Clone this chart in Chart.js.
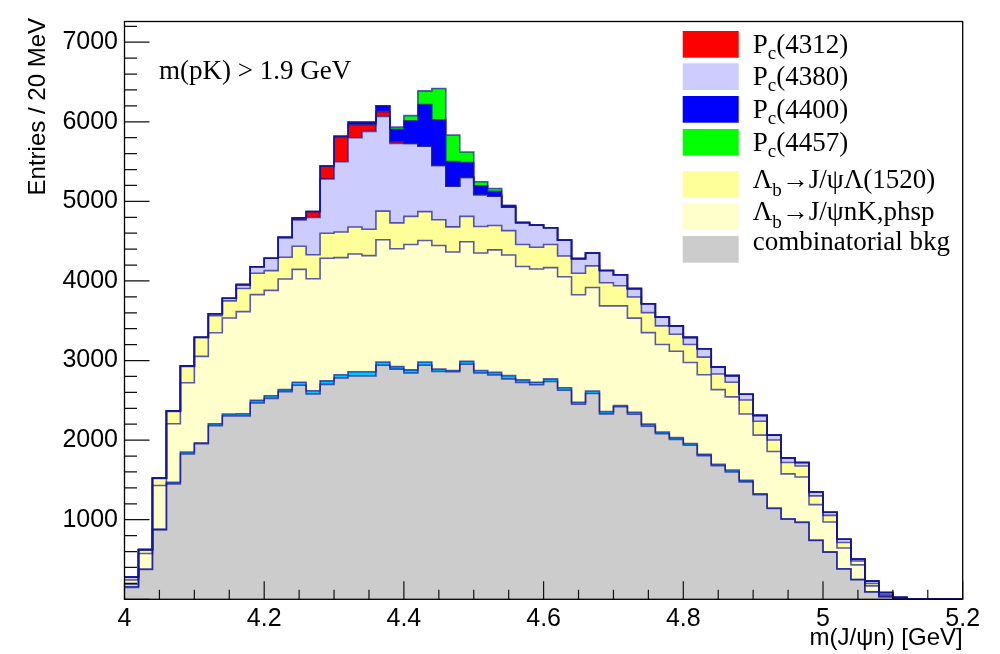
<!DOCTYPE html>
<html>
<head>
<meta charset="utf-8">
<script src="https://cdn.jsdelivr.net/npm/chart.js@4.4.0/dist/chart.umd.min.js"></script>
<style>
  html, body { margin: 0; padding: 0; background: #fff; }
  #wrap { width: 1000px; height: 654px; }
</style>
</head>
<body>
<div id="wrap"><canvas id="histChart" width="1000" height="654"></canvas></div>
<script>
// bin left edges, 20 MeV bins from 4.00 to 5.20 GeV (last entry closes the step line)
const binEdges = Array.from({ length: 61 }, (_, i) => +(4 + 0.02 * i).toFixed(2));

// entries per bin, one array per stack component (bottom to top)
const combBkg = [150, 375, 872, 1450, 1825, 1955, 2182, 2304, 2304, 2467,
    2525, 2610, 2690, 2580, 2700, 2780, 2805, 2805, 2941, 2892,
    2843, 2941, 2863, 2859, 2953, 2843, 2818, 2770, 2724, 2696,
    2737, 2626, 2450, 2586, 2330, 2420, 2325, 2175, 2080, 2010,
    1935, 1805, 1680, 1600, 1475, 1315, 1140, 1005, 965, 738,
    592, 380, 247, 92, 32, 15, 0, 0, 0, 0];
const otherBkg = [8, 5, 10, 21, 26, 10, 24, 24, 28, 33,
    32, 25, 38, 40, 45, 42, 55, 55, 41, 32,
    40, 41, 29, 16, 37, 32, 33, 40, 33, 32,
    32, 33, 25, 32, 28, 15, 25, 26, 23, 21,
    22, 16, 15, 25, 20, 12, 7, 7, 7, 5,
    4, 4, 2, 2, 1, 0, 0, 0, 0, 0];
const phsp = [30, 196, 548, 735, 870, 1087, 1144, 1206, 1283, 1328,
    1324, 1389, 1418, 1408, 1540, 1471, 1478, 1458, 1536, 1480,
    1575, 1527, 1553, 1489, 1502, 1477, 1539, 1516, 1424, 1423,
    1399, 1394, 1352, 1299, 1329, 1252, 1183, 1150, 1098, 1085,
    1019, 1001, 940, 919, 833, 736, 711, 564, 564, 446,
    376, 261, 184, 75, 12, 5, 0, 0, 0, 0];
const lambda1520 = [55, 42, 88, 155, 205, 235, 212, 216, 290, 269,
    249, 273, 290, 302, 315, 323, 339, 331, 359, 326,
    353, 362, 324, 315, 319, 332, 306, 306, 277, 273,
    290, 260, 269, 273, 290, 252, 265, 251, 234, 214,
    225, 221, 196, 184, 176, 175, 143, 143, 138, 110,
    82, 69, 49, 30, 16, 0, 0, 0, 0, 0];
const pc4380 = [35, 7, 6, 8, 7, 6, 25, 33, 49, 82,
    155, 250, 331, 468, 682, 882, 1123, 1231, 1189, 997,
    917, 822, 682, 512, 490, 401, 370, 295, 270, 278,
    210, 200, 185, 162, 155, 138, 106, 112, 110, 105,
    90, 106, 89, 82, 73, 73, 62, 58, 45, 49,
    40, 41, 24, 29, 25, 5, 0, 0, 0, 0];
const pc4312 = [0, 0, 0, 0, 0, 0, 0, 0, 0, 0,
    0, 0, 25, 75, 163, 318, 163, 83, 62, 23,
    0, 0, 0, 0, 0, 0, 0, 0, 0, 0,
    0, 0, 0, 0, 0, 0, 0, 0, 0, 0,
    0, 0, 0, 0, 0, 0, 0, 0, 0, 0,
    0, 0, 0, 0, 0, 0, 0, 0, 0, 0];
const pc4400 = [0, 0, 0, 0, 0, 0, 0, 0, 0, 0,
    0, 0, 0, 0, 0, 0, 33, 33, 73, 157,
    285, 524, 575, 310, 188, 110, 59, 20, 10, 0,
    0, 0, 0, 0, 0, 0, 0, 0, 0, 0,
    0, 0, 0, 0, 0, 0, 0, 0, 0, 0,
    0, 0, 0, 0, 0, 0, 0, 0, 0, 0];
const pc4457 = [0, 0, 0, 0, 0, 0, 0, 0, 0, 0,
    0, 0, 0, 0, 0, 0, 0, 0, 0, 28,
    64, 171, 392, 333, 132, 51, 36, 0, 0, 0,
    0, 0, 0, 0, 0, 0, 0, 0, 0, 0,
    0, 0, 0, 0, 0, 0, 0, 0, 0, 0,
    0, 0, 0, 0, 0, 0, 0, 0, 0, 0];

const seriesValues = [combBkg, otherBkg, phsp, lambda1520, pc4380, pc4312, pc4400, pc4457];
const seriesLabels = ["combinatorial bkg", "", "Λ_{b}→J/ψnK,phsp", "Λ_{b}→J/ψΛ(1520)",
    "P_{c}(4380)", "P_{c}(4312)", "P_{c}(4400)", "P_{c}(4457)"];
const seriesColors = ["#cccccc", "#00c8ff", "#ffffcc", "#ffff99", "#ccccff", "#ff0000", "#0000ff", "#00ff00"];
const legendOrder = [5, 4, 6, 7, 3, 2, 0];

const xTicks = [4, 4.2, 4.4, 4.6, 4.8, 5, 5.2];
const yTicks = [1000, 2000, 3000, 4000, 5000, 6000, 7000];

const SANS = '"Liberation Sans", Arial, sans-serif';
const SERIF = '"Liberation Serif", "Times New Roman", serif';

// draws text with _{...} subscripts
function drawRich(ctx, text, x, y, size, subSize, drop) {
    const parts = text.split(/_\{([^}]*)\}/);
    parts.forEach((p, i) => {
        if (!p) return;
        const sub = i % 2 === 1;
        ctx.font = `${sub ? subSize : size}px ${SERIF}`;
        ctx.fillText(p, x, sub ? y + drop : y);
        x += ctx.measureText(p).width;
    });
}

const rootStyle = {
    id: "rootStyle",
    afterDraw(chart) {
        const { ctx, chartArea: a, scales: { x, y } } = chart;
        ctx.save();

        // inward ticks
        ctx.strokeStyle = "#111";
        ctx.lineWidth = 1.2;
        ctx.beginPath();
        for (let v = 0; v <= 7200; v += 200) {
            const py = y.getPixelForValue(v);
            const len = v % 1000 === 0 ? 25 : 12.5;
            ctx.moveTo(a.left, py);
            ctx.lineTo(a.left + len, py);
        }
        for (let k = 0; k <= 24; k++) {
            const px = x.getPixelForValue(4 + k * 0.05);
            const len = k % 4 === 0 ? 18 : 9.5;
            ctx.moveTo(px, a.bottom);
            ctx.lineTo(px, a.bottom - len);
        }
        ctx.stroke();

        ctx.strokeStyle = "#000";
        ctx.lineWidth = 1.3;
        ctx.strokeRect(a.left, a.top, a.right - a.left, a.bottom - a.top);

        // axis titles
        ctx.fillStyle = "#000";
        ctx.font = `24px ${SANS}`;
        ctx.textAlign = "right";
        ctx.textBaseline = "alphabetic";
        ctx.fillText("m(J/ψn) [GeV]", a.right, 645);
        ctx.save();
        ctx.translate(45, 18);
        ctx.rotate(-Math.PI / 2);
        ctx.fillText("Entries / 20 MeV", 0, 0);
        ctx.restore();

        // cut label
        ctx.textAlign = "left";
        ctx.font = `27px ${SERIF}`;
        ctx.fillText("m(pK) > 1.9 GeV", 159, 79);

        // legend
        const tops = [31, 63.3, 96, 129, 171, 203.3, 236];
        const base = [22.3, 21.7, 22.3, 22, 17.3, 16.7, 14];
        legendOrder.forEach((idx, r) => {
            ctx.fillStyle = seriesColors[idx];
            ctx.fillRect(682.7, tops[r], 56, 26.7);
            ctx.fillStyle = "#000";
            drawRich(ctx, seriesLabels[idx], 752.7, tops[r] + base[r], 27, 19, idx === 2 || idx === 3 ? 8 : 5.5);
        });

        ctx.restore();
    }
};

const datasets = seriesValues.map((vals, i) => ({
    label: seriesLabels[i],
    data: vals.concat(vals[vals.length - 1]).map((v, j) => ({ x: binEdges[j], y: v })),
    backgroundColor: seriesColors[i],
    borderColor: "rgba(20, 20, 150, 0.7)",
    borderWidth: 1.6,
    fill: i === 0 ? "origin" : "-1",
    stepped: true,
    pointRadius: 0,
    tension: 0
}));

new Chart(document.getElementById("histChart").getContext("2d"), {
    type: "line",
    data: { datasets },
    options: {
        responsive: false,
        animation: false,
        events: [],
        layout: { padding: { left: 0, right: 37.3, top: 7, bottom: 0 } },
        plugins: {
            legend: { display: false },
            tooltip: { enabled: false },
            filler: { drawTime: "beforeDatasetsDraw" }
        },
        scales: {
            x: {
                type: "linear",
                min: 4,
                max: 5.2,
                grid: { display: false, drawTicks: false },
                border: { display: false },
                afterBuildTicks: s => { s.ticks = xTicks.map(v => ({ value: v })); },
                afterFit: s => { s.height = 654 - 599.3; },
                ticks: {
                    autoSkip: false,
                    maxRotation: 0,
                    padding: 5,
                    color: "#000",
                    font: { family: SANS, size: 25 },
                    callback: v => String(+v.toFixed(1))
                }
            },
            y: {
                stacked: true,
                min: 0,
                max: 7260,
                grid: { display: false, drawTicks: false },
                border: { display: false },
                afterBuildTicks: s => { s.ticks = yTicks.map(v => ({ value: v })); },
                afterFit: s => { s.width = 124.5; },
                ticks: {
                    padding: 6.5,
                    color: "#000",
                    font: { family: SANS, size: 25 },
                    callback: v => String(v)
                }
            }
        }
    },
    plugins: [rootStyle]
});
</script>
</body>
</html>
